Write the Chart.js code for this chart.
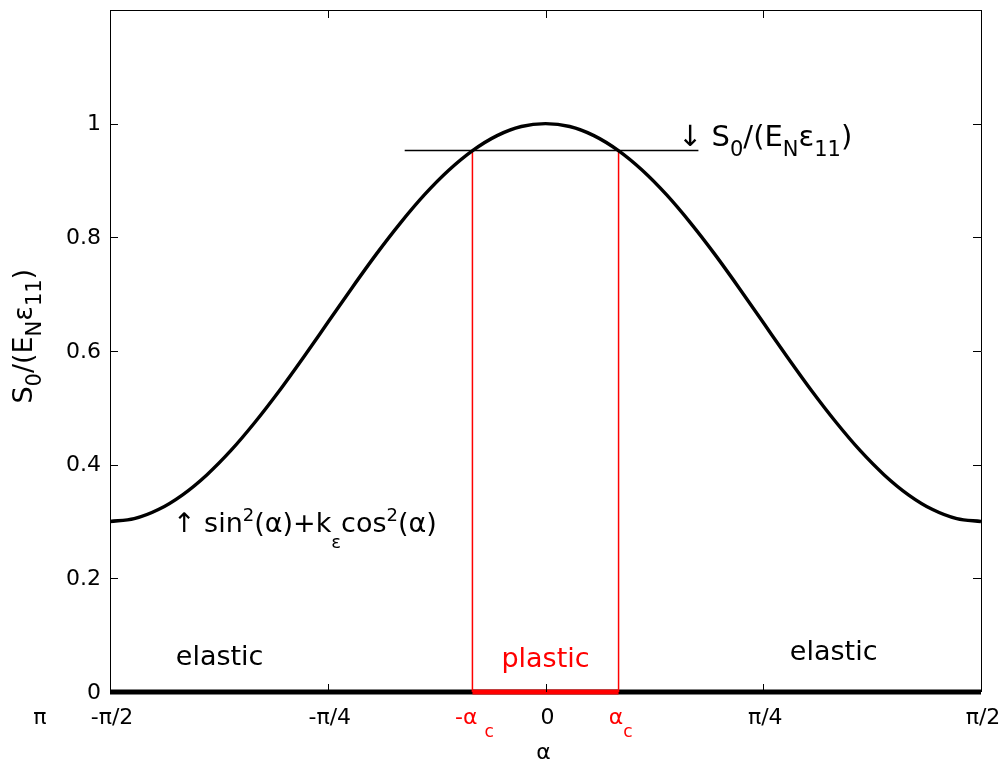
<!DOCTYPE html>
<html><head><meta charset="utf-8">
<script src="https://cdn.jsdelivr.net/npm/chart.js@4.4.1/dist/chart.umd.min.js"></script>
<style>html,body{margin:0;padding:0;background:#fff;} #wrap{width:1004px;height:765px;position:relative;}</style>
</head><body><div id="wrap"><canvas id="c" width="1004" height="765"></canvas></div>
<script>
// ---- data ----
const alphaDeg = [-90,-85,-80,-75,-70,-65,-60,-55,-50,-45,-40,-35,-30,-25,-20,-15,-10,-5,0,5,10,15,20,25,30,35,40,45,50,55,60,65,70,75,80,85,90];
const s0 = [0.300,0.305,0.321,0.347,0.382,0.425,0.475,0.530,0.589,0.650,0.711,0.770,0.825,0.875,0.918,0.953,0.979,0.995,1.000,0.995,0.979,0.953,0.918,0.875,0.825,0.770,0.711,0.650,0.589,0.530,0.475,0.425,0.382,0.347,0.321,0.305,0.300];
const alphaC = 15.1;
const s0Level = 0.953;
const levelLineX = [-29.1, 31.6];
const xRange = [-90, 90];
const yRange = [0, 1.2];
const yTicks = [0, 0.2, 0.4, 0.6, 0.8, 1];
const yTickLabels = ['0', '0.2', '0.4', '0.6', '0.8', '1'];
const xTicks = [-90, -45, -alphaC, 0, alphaC, 45, 90];
const xTickLabels = [
  [['-π/2', 0]], [['-π/4', 0]], [['-α', 0], [' ', 0], ['c', 3]], [['0', 0]], [['α', 0], ['c', 3]], [['π/4', 0]], [['π/2', 0]]
];
const xTickColors = ['#000', '#000', '#f00', '#000', '#f00', '#000', '#000'];
const xMajorTicks = [-90, -45, 0, 45, 90];

const FONT = '"DejaVu Sans", sans-serif';

function drawRich(ctx, parts, x, y, align, size, subSize, color) {
  const widths = parts.map(p => {
    ctx.font = (p[1] ? subSize : size) + 'px ' + FONT;
    return ctx.measureText(p[0]).width;
  });
  const total = widths.reduce((a, b) => a + b, 0);
  let cx = align === 'center' ? x - total / 2 : (align === 'right' ? x - total : x);
  ctx.fillStyle = color;
  ctx.textAlign = 'left';
  ctx.textBaseline = 'alphabetic';
  parts.forEach((p, i) => {
    ctx.font = (p[1] ? subSize : size) + 'px ' + FONT;
    let dy = 0;
    if (p[1] === 1) dy = size * 0.34;
    if (p[1] === 2) dy = -size * 0.42;
    if (p[1] === 3) dy = size * 0.58;
    ctx.fillText(p[0], cx, y + dy);
    cx += widths[i];
  });
}

const decor = {
  id: 'decor',
  afterDatasetsDraw(chart) {
    const ctx = chart.ctx, a = chart.chartArea;
    const xs = chart.scales.x, ys = chart.scales.y;
    ctx.save();
    // box
    ctx.strokeStyle = '#000'; ctx.lineWidth = 1;
    ctx.beginPath();
    ctx.moveTo(Math.round(a.left) + 0.5, Math.round(a.bottom));
    ctx.lineTo(Math.round(a.left) + 0.5, Math.round(a.top) + 0.5);
    ctx.lineTo(Math.round(a.right) + 0.5, Math.round(a.top) + 0.5);
    ctx.lineTo(Math.round(a.right) + 0.5, Math.round(a.bottom));
    ctx.stroke();
    // inside ticks
    ctx.beginPath();
    yTicks.forEach(v => {
      if (v === 0) return;
      const py = Math.round(ys.getPixelForValue(v)) + 0.5;
      ctx.moveTo(a.left, py); ctx.lineTo(a.left + 8, py);
      ctx.moveTo(a.right, py); ctx.lineTo(a.right - 8, py);
    });
    xMajorTicks.forEach(v => {
      const px = Math.round(xs.getPixelForValue(v)) + 0.5;
      ctx.moveTo(px, a.bottom); ctx.lineTo(px, a.bottom - 8);
      ctx.moveTo(px, a.top); ctx.lineTo(px, a.top + 8);
    });
    ctx.stroke();
    // y tick labels
    ctx.fillStyle = '#000';
    ctx.font = '22px ' + FONT;
    ctx.textAlign = 'right'; ctx.textBaseline = 'middle';
    yTicks.forEach((v, i) => ctx.fillText(yTickLabels[i], a.left - 9, ys.getPixelForValue(v) + 1));
    // x tick labels
    const base = a.bottom + 32;
    xTicks.forEach((v, i) => {
      drawRich(ctx, xTickLabels[i], xs.getPixelForValue(v) + 2, base, 'center', 22, 17, xTickColors[i]);
    });
    drawRich(ctx, [['π', 0]], xs.getPixelForValue(-104.5), base, 'center', 22, 17, '#000');
    // x title
    drawRich(ctx, [['α', 0]], xs.getPixelForValue(0) - 2, base + 35, 'center', 22, 17, '#000');
    // y title
    ctx.save();
    ctx.translate(a.left - 78, ys.getPixelForValue(0.626));
    ctx.rotate(-Math.PI / 2);
    drawRich(ctx, [['S', 0], ['0', 1], ['/(E', 0], ['N', 1], ['ε', 0], ['11', 1], [')', 0]], 0, 0, 'center', 27, 21, '#000');
    ctx.restore();
    // annotations
    drawRich(ctx, [['elastic', 0]], xs.getPixelForValue(-76.4), ys.getPixelForValue(0.047), 'left', 27, 19, '#000');
    drawRich(ctx, [['plastic', 0]], xs.getPixelForValue(0), ys.getPixelForValue(0.044), 'center', 27, 19, '#f00');
    drawRich(ctx, [['elastic', 0]], xs.getPixelForValue(50.5), ys.getPixelForValue(0.056), 'left', 27, 19, '#000');
    drawRich(ctx, [['↓ ', 0], ['S', 0], ['0', 1], ['/(E', 0], ['N', 1], ['ε', 0], ['11', 1], [')', 0]],
      xs.getPixelForValue(27.4), ys.getPixelForValue(0.960), 'left', 29, 21, '#000');
    drawRich(ctx, [['↑ ', 0], ['sin', 0], ['2', 2], ['(α)+k', 0], ['ε', 3], ['cos', 0], ['2', 2], ['(α)', 0]],
      xs.getPixelForValue(-77.0), ys.getPixelForValue(0.281), 'left', 27, 18, '#000');
    ctx.restore();
  }
};

const pts = (xa, ya) => xa.map((x, i) => ({ x: x, y: ya[i] }));

// dataset index 0 is drawn on top
new Chart(document.getElementById('c'), {
  type: 'scatter',
  data: {
    datasets: [
      { data: pts(alphaDeg, s0), showLine: true, borderColor: '#000', borderWidth: 3.4, pointRadius: 0, cubicInterpolationMode: 'monotone' },
      { data: pts(levelLineX, [s0Level, s0Level]), showLine: true, borderColor: '#000', borderWidth: 1.5, pointRadius: 0 },
      { data: pts([-alphaC, alphaC], [0, 0]), showLine: true, borderColor: '#ff0000', borderWidth: 5, pointRadius: 0, clip: 10 },
      { data: pts([-alphaC, -alphaC], [0, s0Level]), showLine: true, borderColor: '#ff0000', borderWidth: 1.5, pointRadius: 0 },
      { data: pts([alphaC, alphaC], [0, s0Level]), showLine: true, borderColor: '#ff0000', borderWidth: 1.5, pointRadius: 0 },
      { data: pts(xRange, [0, 0]), showLine: true, borderColor: '#000', borderWidth: 5, pointRadius: 0, clip: 10 }
    ]
  },
  options: {
    responsive: false,
    animation: false,
    events: [],
    layout: { padding: { left: 110, right: 23, top: 10, bottom: 73 } },
    plugins: { legend: { display: false }, tooltip: { enabled: false } },
    scales: {
      x: { type: 'linear', min: xRange[0], max: xRange[1], display: false },
      y: { type: 'linear', min: yRange[0], max: yRange[1], display: false }
    }
  },
  plugins: [decor]
});
</script>
</body></html>
